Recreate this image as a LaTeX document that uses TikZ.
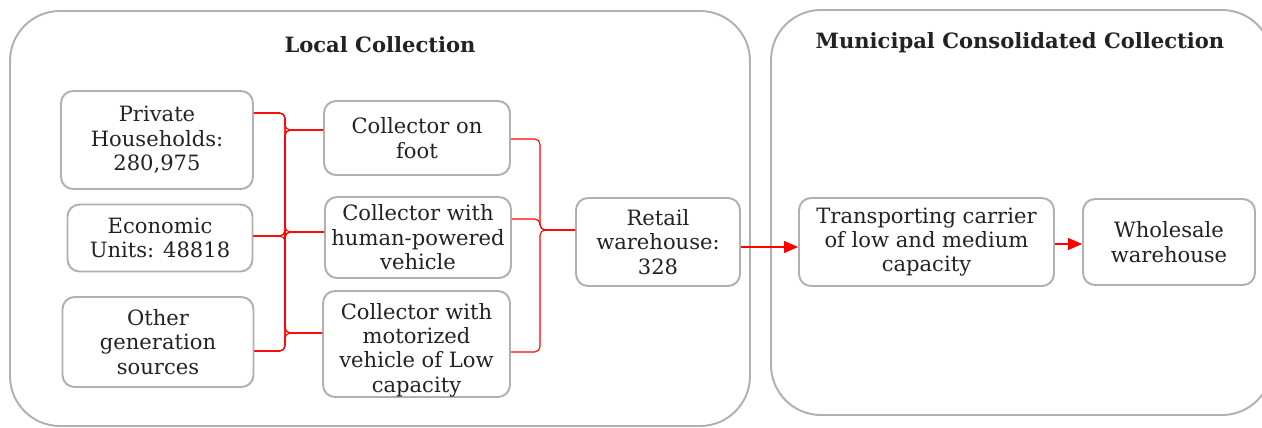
\documentclass[tikz,border=0pt]{standalone}
\usepackage{fontspec}
\setmainfont{DejaVu Serif}
\usetikzlibrary{positioning,arrows.meta,calc}
\definecolor{FrameGray}{RGB}{176,176,176}
\definecolor{InkGray}{RGB}{34,34,34}
\tikzset{
  cluster/.style={draw=FrameGray,line width=1.1pt,rounded corners=1.0cm},
  title/.style={font=\fontsize{12}{14}\selectfont\bfseries,text=InkGray},
  box/.style={draw=FrameGray,line width=1.1pt,rounded corners=0.24cm,align=center,
    inner sep=0pt,font=\fontsize{12}{13.9}\selectfont,text=InkGray},
  boxtext/.style={align=center,inner sep=0pt,font=\fontsize{12}{13.9}\selectfont,text=InkGray},
  link/.style={draw=red,line width=0.6pt,rounded corners=3pt},
  flow/.style={draw=red,line width=0.6pt,-{Triangle[length=0.28cm,width=0.24cm]}}
}
\begin{document}
\begin{tikzpicture}[x=0.02cm,y=-0.02cm]
  \useasboundingbox (0,0) rectangle (1262,427);
  \clip (0,0) rectangle (1262,427);
  % clusters
  \draw[cluster] (10,11) rectangle (750,426);
  \draw[cluster] (771,10) rectangle (1272,415);
  \node[title] (loc) at (380,45) {Local Collection};
  \node[title] (mun) at (1020,43) {Municipal Consolidated Collection};
  % sources
  \node[box,minimum width=3.84cm,minimum height=1.96cm] (hh) at (157,140) {Private\\Households:\\280,975};
  \node[box,minimum width=3.70cm,minimum height=1.34cm] (eu) at (160,238) {Economic\\Units: 48818};
  \node[box,minimum width=3.82cm,minimum height=1.80cm] (og) at (158,342) {Other\\generation\\sources};
  % collectors
  \node[box,minimum width=3.72cm,minimum height=1.48cm] (cf) at (417,138) {Collector on\\foot};
  \node[box,minimum width=3.72cm,minimum height=1.62cm] (ch) at (418,237.5) {Collector with\\human-powered\\vehicle};
  \node[box,minimum width=3.74cm,minimum height=2.12cm] (cm) at (416.5,344) {};
  \node[boxtext] (cm-txt) at ($(cm.center)+(0,6)$) {Collector with\\motorized\\vehicle of Low\\capacity};
  % warehouses and carrier
  \node[box,minimum width=3.28cm,minimum height=1.76cm] (rw) at (658,242) {Retail\\warehouse:\\328};
  \node[box,minimum width=5.10cm,minimum height=1.76cm] (tc) at (926.5,242) {Transporting carrier\\of low and medium\\capacity};
  \node[box,minimum width=3.44cm,minimum height=1.72cm] (ww) at (1169,242) {Wholesale\\warehouse};
  % ports
  \coordinate (hh-o) at ($(hh.east)+(0,-27)$);
  \coordinate (eu-o) at ($(eu.east)+(0,-2)$);
  \coordinate (og-o) at ($(og.east)+(0,9)$);
  \coordinate (cf-i) at ($(cf.west)+(0,-8)$);
  \coordinate (ch-i) at ($(ch.west)+(0,-5.5)$);
  \coordinate (cm-i) at ($(cm.west)+(0,-11)$);
  \coordinate (cf-o) at ($(cf.east)+(0,1)$);
  \coordinate (ch-o) at ($(ch.east)+(0,-18.5)$);
  \coordinate (cm-o) at ($(cm.east)+(0,8)$);
  \coordinate (rw-i) at ($(rw.west)+(0,-12)$);
  \coordinate (busL) at (285,0);
  \coordinate (busR) at (540,0);
  % sources to collectors
  \foreach \s in {hh,eu,og}
    \foreach \t in {cf,ch,cm}
      \draw[link] (\s-o) -| (busL |- \t-i) -- (\t-i);
  % collectors to retail
  \foreach \s in {cf,ch,cm}
    \draw[link] (\s-o) -| (busR |- rw-i) -- (rw-i);
  \draw[flow] ($(rw.east)+(0,5)$) -- ($(tc.west)+(0,5)$);
  \draw[flow] ($(tc.east)+(0,2)$) -- ($(ww.west)+(0,2)$);
\end{tikzpicture}
\end{document}
